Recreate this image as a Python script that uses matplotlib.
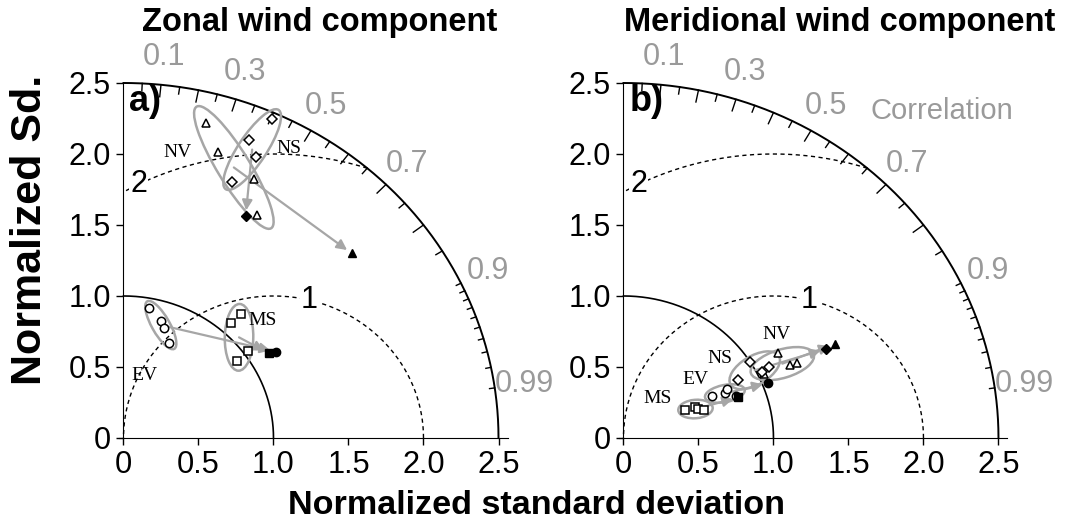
import numpy as np
import matplotlib
matplotlib.use('Agg')
import matplotlib.pyplot as plt
from matplotlib.patches import Ellipse, FancyArrowPatch
from matplotlib import font_manager

groups = ['NV', 'NS', 'EV', 'MS']
group_markers = ['^', 'D', 'o', 's']

# a) zonal wind: 4 members per group, normalized sd and correlation
zonal_sd = [[2.283, 2.109, 2.019, 1.806],   # NV
            [2.452, 2.260, 2.165, 1.944],   # NS
            [0.929, 0.861, 0.819, 0.736],   # EV
            [1.170, 1.080, 1.031, 0.929]]   # MS
zonal_r = [[0.240, 0.300, 0.431, 0.494],
           [0.403, 0.371, 0.408, 0.371],
           [0.185, 0.288, 0.332, 0.412],
           [0.668, 0.664, 0.803, 0.812]]
zonal_ref_sd = [2.001, 1.763, 1.183, 1.138]
zonal_ref_r = [0.760, 0.462, 0.858, 0.852]

# b) meridional wind
merid_sd = [[1.192, 1.223, 1.274, 1.040],
            [0.997, 0.867, 1.034, 1.091],
            [0.658, 0.748, 0.770, 0.806],
            [0.455, 0.524, 0.537, 0.572]]
merid_r = [[0.866, 0.907, 0.909, 0.901],
           [0.845, 0.882, 0.893, 0.889],
           [0.893, 0.905, 0.896, 0.930],
           [0.901, 0.910, 0.925, 0.939]]
merid_ref_sd = [1.558, 1.488, 1.040, 0.818]
merid_ref_r = [0.905, 0.907, 0.928, 0.937]

sd_ticks = [0, 0.5, 1.0, 1.5, 2.0, 2.5]
sd_ticklabels = ['0', '0.5', '1.0', '1.5', '2.0', '2.5']
corr_labels = [0.1, 0.3, 0.5, 0.7, 0.9, 0.99]

# ellipse shapes (major, minor, angle) and group label positions
zonal_ell = [(0.99, 0.22, -60), (0.66, 0.19, 58), (0.38, 0.12, -62), (0.47, 0.19, 89)]
merid_ell = [(0.44, 0.20, 18), (0.38, 0.20, 33), (0.27, 0.12, 12), (0.23, 0.13, 5)]
zonal_lab = [(0.36, 2.01), (1.10, 2.04), (0.14, 0.44), (0.93, 0.83)]
merid_lab = [(1.02, 0.73), (0.64, 0.56), (0.48, 0.41), (0.23, 0.28)]

avail = {f.name for f in font_manager.fontManager.ttflist}
narrow = 'Liberation Sans Narrow' if 'Liberation Sans Narrow' in avail else 'Liberation Sans'
nscale = 1.0 if narrow == 'Liberation Sans Narrow' else 0.82
plt.rcParams['font.family'] = ['Liberation Sans', 'DejaVu Sans']

GREY = '#9a9a9a'
ELL = '#a6a6a6'


def to_xy(sd, r):
    sd = np.asarray(sd, float)
    r = np.asarray(r, float)
    return sd * r, sd * np.sqrt(1 - r ** 2)


def taylor(ax, sd, r, ref_sd, ref_r, ells, labs, tag):
    ax.set_xlim(-0.1, 2.8)
    ax.set_ylim(-0.1, 2.8)
    for s in ['top', 'right']:
        ax.spines[s].set_visible(False)
    ax.spines['left'].set_position(('data', 0))
    ax.spines['bottom'].set_position(('data', 0))
    ax.spines['left'].set_bounds(0, 2.5)
    ax.spines['bottom'].set_bounds(-0.03, 2.56)
    ax.set_xticks(sd_ticks)
    ax.set_xticklabels(sd_ticklabels, fontfamily=narrow, fontsize=27 * nscale)
    ax.set_yticks(sd_ticks)
    ax.set_yticklabels(sd_ticklabels, fontsize=22)
    ax.tick_params(axis='both', direction='out', length=5, width=1)
    ax.tick_params(axis='x', pad=4)
    ax.tick_params(axis='y', pad=4)

    # outer arc and reference arc
    t = np.linspace(0, np.pi / 2, 300)
    ax.plot(2.5 * np.cos(t), 2.5 * np.sin(t), color='k', lw=1.4, clip_on=False)
    ax.plot(np.cos(t), np.sin(t), color='k', lw=1.2)
    # rms circles around reference point (1, 0)
    t1 = np.linspace(0, np.pi, 300)
    ax.plot(1 + np.cos(t1), np.sin(t1), color='k', lw=1, ls=(0, (3, 2.5)))
    t2 = np.linspace(np.arccos(0.3125), np.arccos(-0.5), 200)
    ax.plot(1 + 2 * np.cos(t2), 2 * np.sin(t2), color='k', lw=1, ls=(0, (3, 2.5)))
    ax.text(1.24, 0.97, '1', fontsize=22, ha='center', va='center',
            bbox=dict(fc='white', ec='none', pad=0.5))
    ax.text(0.10, 1.79, '2', fontsize=22, ha='center', va='center',
            bbox=dict(fc='white', ec='none', pad=0.5))

    # correlation ticks on the outer arc
    minor = list(np.arange(0.05, 0.951, 0.05)) + [0.91, 0.92, 0.93, 0.94, 0.96, 0.97, 0.98, 0.99]
    for c in minor:
        th = np.arccos(c)
        major = abs(c * 10 - round(c * 10)) < 1e-6 and c <= 0.9
        L = 0.085 if major else (0.05 if c < 0.9 else 0.035)
        ax.plot([2.5 * np.cos(th), (2.5 - L) * np.cos(th)],
                [2.5 * np.sin(th), (2.5 - L) * np.sin(th)], color='k', lw=1, clip_on=False)
    for c in corr_labels:
        th = np.arccos(c)
        ax.text(2.7 * np.cos(th), 2.7 * np.sin(th), f'{c:g}', color=GREY,
                fontsize=22, ha='center', va='center', clip_on=False)

    for i, g in enumerate(groups):
        x, y = to_xy(sd[i], r[i])
        rx, ry = to_xy(ref_sd[i], ref_r[i])
        cx, cy = x.mean(), y.mean()
        w, h, a = ells[i]
        ms = 6 if group_markers[i] != 'D' else 5
        ax.add_patch(Ellipse((cx, cy), w, h, angle=a, fill=False, ec=ELL, lw=1.8, zorder=2))
        ax.add_patch(FancyArrowPatch((cx, cy), (rx, ry),
                                     arrowstyle='-|>,head_length=6,head_width=3',
                                     color=ELL, lw=1.6, shrinkA=0, shrinkB=4, zorder=3))
        ax.plot(x, y, ls='none', marker=group_markers[i], ms=ms,
                mfc='white', mec='k', mew=1.1, zorder=4)
        ax.plot(rx, ry, ls='none', marker=group_markers[i], ms=ms,
                mfc='k', mec='k', zorder=5)
        ax.text(labs[i][0], labs[i][1], g, family='Liberation Serif', fontsize=14,
                ha='center', va='center', zorder=6)

    ax.text(0.04, 2.37, tag, fontsize=26, fontweight='bold', ha='left', va='center')


fig = plt.figure(figsize=(10.72, 5.28), dpi=100)
axa = fig.add_axes([0.1012, 0.1436, 0.4058, 0.7799])
axb = fig.add_axes([0.5676, 0.1436, 0.4058, 0.7799])

taylor(axa, zonal_sd, zonal_r, zonal_ref_sd, zonal_ref_r, zonal_ell, zonal_lab, 'a)')
taylor(axb, merid_sd, merid_r, merid_ref_sd, merid_ref_r, merid_ell, merid_lab, 'b)')
axb.text(2.12, 2.30, 'Correlation', color=GREY, fontsize=21, ha='center', va='center')

fig.text(320 / 1072, 1 - 23 / 528, 'Zonal wind component', fontsize=23.5,
         fontweight='bold', ha='center', va='center')
fig.text(840 / 1072, 1 - 23 / 528, 'Meridional wind component', fontsize=23.5,
         fontweight='bold', ha='center', va='center')
fig.text(30 / 1072, 1 - 230 / 528, 'Normalized Sd.', fontsize=31, fontweight='bold',
         rotation=90, ha='center', va='center')
fig.text(537 / 1072, 1 - 505 / 528, 'Normalized standard deviation', fontsize=30 * nscale,
         fontweight='bold', family=narrow, ha='center', va='center')

fig.savefig('out.png', dpi=100, facecolor='white')
